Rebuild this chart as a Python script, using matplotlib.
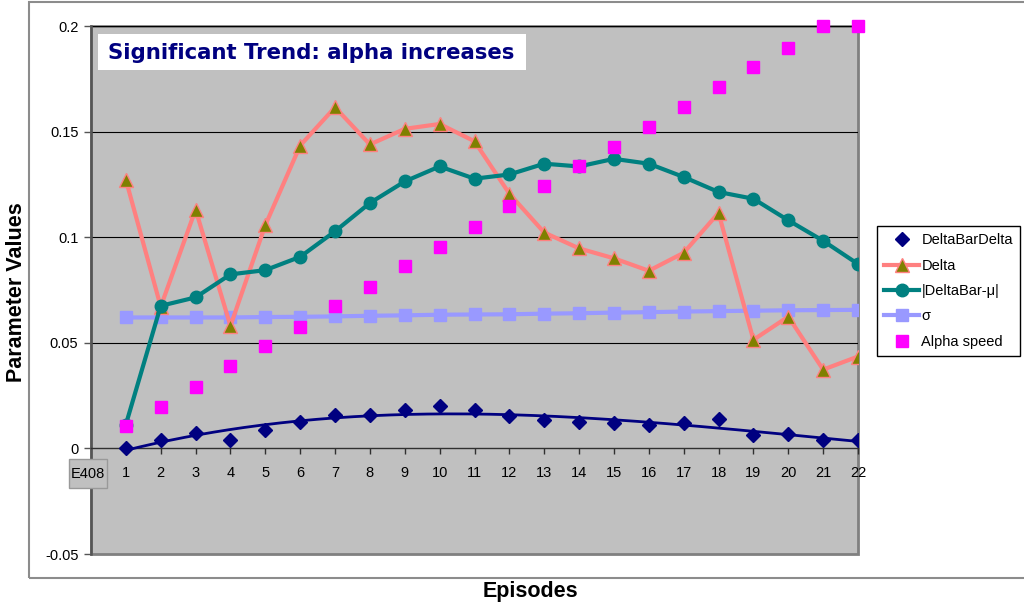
import numpy as np
import matplotlib
matplotlib.use('Agg')
import matplotlib.pyplot as plt
from matplotlib.patches import Rectangle

plt.rcParams['font.family'] = ['Liberation Sans', 'DejaVu Sans']

# data
episodes = np.arange(1, 23)
delta_bar_delta = [0.0003, 0.0039, 0.0074, 0.0042, 0.0086, 0.0124, 0.0160, 0.0160, 0.0181, 0.0200, 0.0181,
                   0.0152, 0.0134, 0.0124, 0.0118, 0.0110, 0.0118, 0.0137, 0.0063, 0.0069, 0.0039, 0.0039]
delta = [0.1272, 0.0671, 0.1131, 0.0580, 0.1057, 0.1434, 0.1615, 0.1439, 0.1513, 0.1536, 0.1454,
         0.1206, 0.1022, 0.0947, 0.0900, 0.0841, 0.0926, 0.1115, 0.0514, 0.0624, 0.0373, 0.0435]
delta_bar_mu = [0.0113, 0.0675, 0.0715, 0.0824, 0.0844, 0.0907, 0.1028, 0.1162, 0.1264, 0.1335, 0.1277,
                0.1297, 0.1348, 0.1335, 0.1371, 0.1348, 0.1285, 0.1214, 0.1182, 0.1080, 0.0983, 0.0873]
sigma = [0.0620, 0.0620, 0.0620, 0.0620, 0.0622, 0.0623, 0.0625, 0.0628, 0.0630, 0.0633, 0.0634,
         0.0635, 0.0638, 0.0640, 0.0643, 0.0645, 0.0648, 0.0650, 0.0652, 0.0654, 0.0655, 0.0656]
alpha_speed = [0.0105, 0.0195, 0.0291, 0.0388, 0.0483, 0.0577, 0.0675, 0.0766, 0.0863, 0.0954, 0.1049,
               0.1146, 0.1241, 0.1336, 0.1426, 0.1524, 0.1618, 0.1712, 0.1808, 0.1898, 0.2000, 0.2000]
yticks = [-0.05, 0, 0.05, 0.1, 0.15, 0.2]
ytick_labels = ['-0.05', '0', '0.05', '0.1', '0.15', '0.2']

fig = plt.figure(figsize=(10.24, 6.04), dpi=100)
W, H = 1024, 604

# outer chart border (runs off the right edge)
fig.add_artist(Rectangle((29 / W, 1 - 578 / H), 1.2, 576 / H, transform=fig.transFigure,
                         facecolor='none', edgecolor='#8c8c8c', lw=1.5, zorder=0))

ax = fig.add_axes([91 / W, 1 - 554 / H, 767 / W, 528 / H])
ax.set_facecolor('#c0c0c0')
ax.patch.set_edgecolor('#808080')
ax.patch.set_linewidth(2)
ax.set_xlim(0, 22)
ax.set_ylim(-0.05, 0.2)

for s in ['top', 'right']:
    ax.spines[s].set_visible(False)
ax.spines['left'].set_color('#555555')
ax.spines['left'].set_linewidth(1.8)
ax.spines['bottom'].set_position(('data', 0))
ax.spines['bottom'].set_color('#303030')
ax.spines['bottom'].set_linewidth(1)

ax.set_yticks(yticks)
ax.set_yticklabels(ytick_labels)
ax.set_xticks(episodes)
ax.set_xticklabels([str(e) for e in episodes])
ax.tick_params(axis='y', length=5, width=1, color='#555555', pad=4, labelsize=10.5)
ax.tick_params(axis='x', direction='out', length=4, width=1, color='#303030', pad=9, labelsize=10.5)
for y in [0.05, 0.1, 0.15, 0.2]:
    ax.axhline(y, color='black', lw=0.8, zorder=1)

# polynomial trendline for DeltaBarDelta
coef = np.polyfit(episodes, delta_bar_delta, 3)
xs = np.linspace(1, 22, 200)
ax.plot(xs, np.polyval(coef, xs), color='#000080', lw=2, zorder=3)

ax.plot(episodes, sigma, color='#9999ff', lw=3, marker='s', ms=8, mfc='#9999ff', mec='#9999ff',
        label='σ', zorder=4)
ax.plot(episodes, delta, color='#ff8080', lw=3, marker='^', ms=10, mfc='#808000', mec='#ff8080',
        mew=1, label='Delta', zorder=5)
ax.plot(episodes, delta_bar_mu, color='#008080', lw=3, marker='o', ms=9, mfc='#008080', mec='#008080',
        label='|DeltaBar-μ|', zorder=6)
ax.plot(episodes, alpha_speed, ls='none', marker='s', ms=9, mfc='#ff00ff', mec='#ff00ff',
        label='Alpha speed', zorder=7, clip_on=False)
ax.plot(episodes, delta_bar_delta, ls='none', marker='D', ms=7.5, mfc='#000080', mec='#000080',
        label='DeltaBarDelta', zorder=8)

h, l = ax.get_legend_handles_labels()
order = [l.index(n) for n in ['DeltaBarDelta', 'Delta', '|DeltaBar-μ|', 'σ', 'Alpha speed']]
leg = fig.legend([h[i] for i in order], [l[i] for i in order], loc='upper left',
                 bbox_to_anchor=(877 / W, 1 - 226 / H), fontsize=10.5, frameon=True, fancybox=False,
                 edgecolor='black', framealpha=1, handlelength=2.4, handletextpad=0.15,
                 labelspacing=0.78, borderpad=0.5, borderaxespad=0)
leg.get_frame().set_linewidth(1)

# title text box inside plot
fig.add_artist(Rectangle((98 / W, 1 - 70 / H), 428 / W, 36 / H, transform=fig.transFigure,
                         facecolor='white', edgecolor='none', zorder=5))
fig.text(311 / W, 1 - 53 / H, 'Significant Trend: alpha increases', family='DejaVu Sans',
         fontsize=15.3, fontweight='bold', color='#000080', ha='center', va='center', zorder=6)

# cell reference box
fig.add_artist(Rectangle((69 / W, 1 - 488 / H), 38 / W, 29 / H, transform=fig.transFigure,
                         facecolor='#c0c0c0', edgecolor='#999999', lw=1, zorder=5))
fig.text(88 / W, 1 - 474 / H, 'E408', fontsize=10.5, ha='center', va='center', zorder=6)

fig.text(17 / W, 1 - 292 / H, 'Parameter Values', fontsize=15.5, fontweight='bold',
         rotation=90, ha='center', va='center')
fig.text(530 / W, 1 - 592 / H, 'Episodes', fontsize=15.5, fontweight='bold', ha='center', va='center')

fig.savefig('out.png', dpi=100)
